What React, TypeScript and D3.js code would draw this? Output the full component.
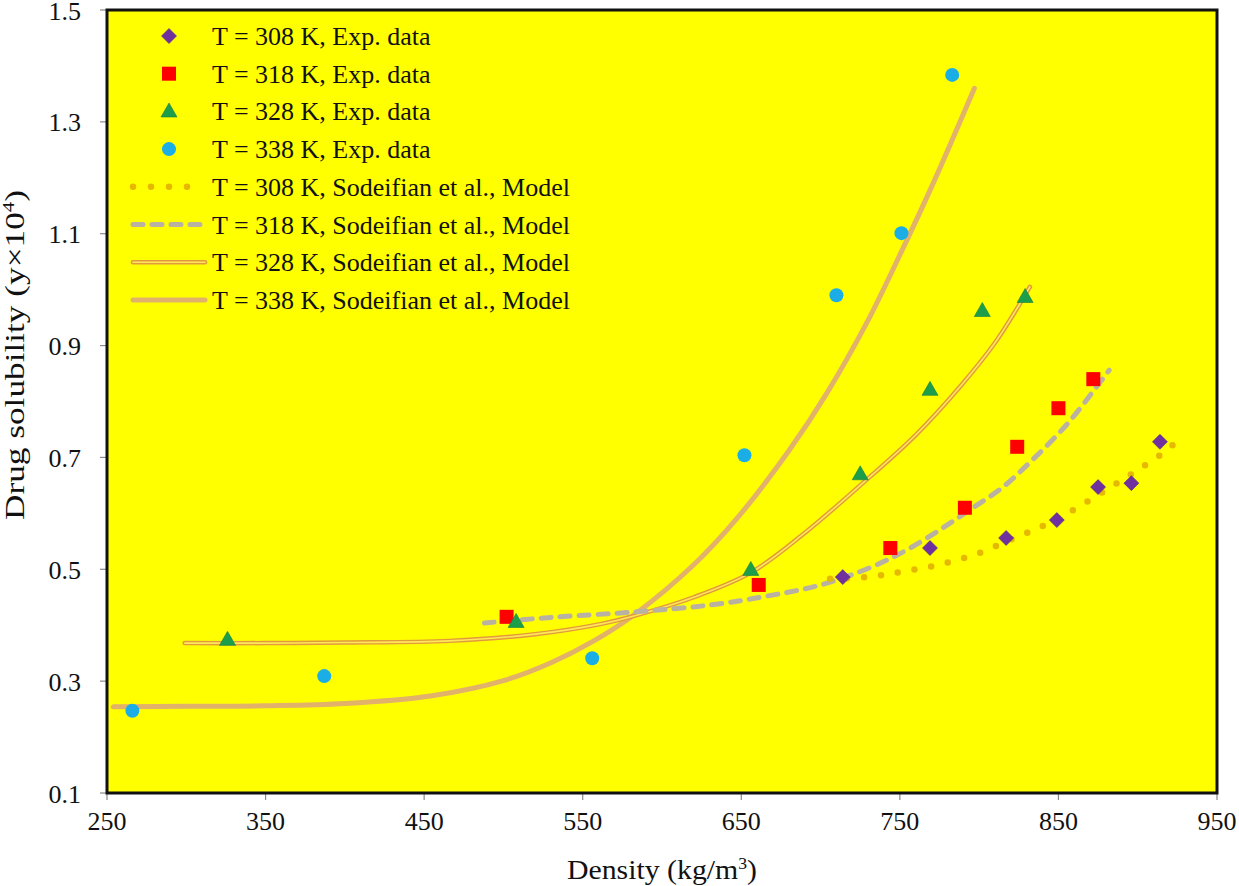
import React from "react";
import * as d3 from "d3";

// ---------- data ----------
const xTicks = [250, 350, 450, 550, 650, 750, 850, 950];
const yTicks = [0.1, 0.3, 0.5, 0.7, 0.9, 1.1, 1.3, 1.5];

// Experimental data
const exp308X = [714, 769, 817, 849, 875, 896, 914];
const exp308Y = [0.486, 0.538, 0.556, 0.588, 0.647, 0.654, 0.728];
const exp318X = [502, 661, 744, 791, 824, 850, 872];
const exp318Y = [0.415, 0.472, 0.538, 0.61, 0.719, 0.788, 0.84];
const exp328X = [326, 508, 656, 725, 769, 802, 829];
const exp328Y = [0.374, 0.406, 0.499, 0.67, 0.821, 0.962, 0.987];
const exp338X = [266, 387, 556, 652, 710, 751, 783];
const exp338Y = [0.247, 0.309, 0.341, 0.704, 0.99, 1.101, 1.384];

// Model curves (Sodeifian et al.)
const mod308X = [706, 732, 754, 776, 798, 819, 839, 858, 878, 897, 915, 926];
const mod308Y = [0.483, 0.487, 0.497, 0.509, 0.527, 0.552, 0.576, 0.604, 0.638, 0.672, 0.706, 0.732];
const mod318X = [488, 530, 584, 630, 666, 700, 732, 754, 776, 795, 815, 833, 855, 874, 882];
const mod318Y = [0.404, 0.414, 0.424, 0.436, 0.452, 0.472, 0.504, 0.534, 0.572, 0.608, 0.647, 0.694, 0.758, 0.826, 0.856];
const mod328X = [299, 350, 400, 466, 520, 561, 584, 620, 656, 690, 725, 760, 789, 810, 832];
const mod328Y = [0.368, 0.368, 0.369, 0.372, 0.384, 0.402, 0.418, 0.45, 0.494, 0.565, 0.65, 0.74, 0.83, 0.905, 1.005];
const mod338X = [254, 300, 350, 400, 455, 500, 530, 557, 584, 620, 647, 680, 704, 729, 751, 771, 797];
const mod338Y = [0.254, 0.255, 0.256, 0.26, 0.274, 0.301, 0.333, 0.372, 0.422, 0.508, 0.59, 0.712, 0.815, 0.94, 1.068, 1.19, 1.36];

const legendLabels = [
  "T = 308 K, Exp. data",
  "T = 318 K, Exp. data",
  "T = 328 K, Exp. data",
  "T = 338 K, Exp. data",
  "T = 308 K, Sodeifian et al., Model",
  "T = 318 K, Sodeifian et al., Model",
  "T = 328 K, Sodeifian et al., Model",
  "T = 338 K, Sodeifian et al., Model",
];

// ---------- layout ----------
const W = 1239;
const H = 886;
const L = 107, R = 1217, T = 10, B = 793;
const FONT = "'Liberation Serif', 'Times New Roman', serif";

const C_DIAMOND = "#7030A0";
const C_SQUARE = "#FF0000";
const C_TRI = "#1C9E4A";
const C_CIRCLE = "#1BAEE6";
const C_DOT = "#E6B800";
const C_DASH = "#B9B1A2";
const C_328 = "#E29A3C";
const C_328_IN = "#FFE75A";
const C_338 = "#E2B26A";

function zip(xs: number[], ys: number[]) {
  return xs.map((x, i) => [x, ys[i]] as [number, number]);
}

function Marker({ type, x, y }: { type: string; x: number; y: number }) {
  if (type === "diamond") {
    const s = 7.5;
    return <path d={`M${x},${y - s}L${x + s},${y}L${x},${y + s}L${x - s},${y}Z`} fill={C_DIAMOND} stroke="#5a2a80" strokeWidth={0.6} />;
  }
  if (type === "square") {
    const s = 7;
    return <rect x={x - s} y={y - s} width={2 * s} height={2 * s} fill={C_SQUARE} />;
  }
  if (type === "triangle") {
    const w = 8, h = 14;
    return <path d={`M${x},${y - h * 0.6}L${x + w},${y + h * 0.4}L${x - w},${y + h * 0.4}Z`} fill={C_TRI} stroke="#17803c" strokeWidth={0.6} />;
  }
  return <circle cx={x} cy={y} r={7} fill={C_CIRCLE} />;
}

export default function App() {
  const xS = d3.scaleLinear().domain([250, 950]).range([L, R]);
  const yS = d3.scaleLinear().domain([0.1, 1.5]).range([B, T]);
  const line = d3
    .line<[number, number]>()
    .x((d) => xS(d[0]))
    .y((d) => yS(d[1]))
    .curve(d3.curveCatmullRom.alpha(0.5));

  const p308 = line(zip(mod308X, mod308Y)) || "";
  const p318 = line(zip(mod318X, mod318Y)) || "";
  const p328 = line(zip(mod328X, mod328Y)) || "";
  const p338 = line(zip(mod338X, mod338Y)) || "";

  const expSets = [
    { type: "diamond", xs: exp308X, ys: exp308Y },
    { type: "square", xs: exp318X, ys: exp318Y },
    { type: "triangle", xs: exp328X, ys: exp328Y },
    { type: "circle", xs: exp338X, ys: exp338Y },
  ];

  const legY0 = 36;
  const legDy = 37.7;
  const legMarkerX = 169;
  const legTextX = 212;
  const legLineX1 = 133;
  const legLineX2 = 205;

  return (
    <svg width={W} height={H} style={{ position: "absolute", left: 0, top: 0, background: "#fff" }} fontFamily={FONT}>
      <rect x={0} y={0} width={W} height={H} fill="#fff" />
      <rect x={L} y={T} width={R - L} height={B - T} fill="#FFFF00" />

      {/* model curves */}
      <path d={p338} fill="none" stroke={C_338} strokeWidth={5} strokeLinecap="round" />
      <path d={p328} fill="none" stroke={C_328} strokeWidth={4.5} strokeLinecap="round" />
      <path d={p328} fill="none" stroke={C_328_IN} strokeWidth={1.6} strokeLinecap="round" />
      <path d={p318} fill="none" stroke={C_DASH} strokeWidth={5} strokeDasharray="10 9" strokeLinecap="round" />
      <path d={p308} fill="none" stroke={C_DOT} strokeWidth={6.5} strokeDasharray="0 17" strokeLinecap="round" />

      {/* experimental markers */}
      {expSets.map((s) =>
        s.xs.map((xv, i) => <Marker key={s.type + i} type={s.type} x={xS(xv)} y={yS(s.ys[i])} />)
      )}

      {/* legend */}
      {legendLabels.map((lab, i) => {
        const y = legY0 + i * legDy;
        let sample: React.ReactNode = null;
        if (i < 4) {
          sample = <Marker type={expSets[i].type} x={legMarkerX} y={y} />;
        } else if (i === 4) {
          sample = <line x1={legLineX1} x2={190} y1={y} y2={y} stroke={C_DOT} strokeWidth={6.5} strokeDasharray="0 18" strokeLinecap="round" />;
        } else if (i === 5) {
          sample = <line x1={legLineX1} x2={legLineX2} y1={y} y2={y} stroke={C_DASH} strokeWidth={5} strokeDasharray="10 9" strokeLinecap="round" />;
        } else if (i === 6) {
          sample = (
            <g>
              <line x1={legLineX1} x2={legLineX2} y1={y} y2={y} stroke={C_328} strokeWidth={4.5} strokeLinecap="round" />
              <line x1={legLineX1} x2={legLineX2} y1={y} y2={y} stroke={C_328_IN} strokeWidth={1.6} strokeLinecap="round" />
            </g>
          );
        } else {
          sample = <line x1={legLineX1} x2={legLineX2} y1={y} y2={y} stroke={C_338} strokeWidth={5} strokeLinecap="round" />;
        }
        return (
          <g key={lab}>
            {sample}
            <text x={legTextX} y={y + 9} fontSize={26} fill="#111">{lab}</text>
          </g>
        );
      })}

      {/* ticks */}
      {xTicks.map((t) => (
        <g key={"x" + t}>
          <line x1={xS(t)} x2={xS(t)} y1={B} y2={B + 7} stroke="#8a8a8a" strokeWidth={1.2} />
          <text x={xS(t)} y={830} textAnchor="middle" fontSize={26} fill="#111">{t}</text>
        </g>
      ))}
      {yTicks.map((t) => (
        <g key={"y" + t}>
          <line x1={L - 7} x2={L} y1={yS(t)} y2={yS(t)} stroke="#8a8a8a" strokeWidth={1.2} />
          <text x={81} y={yS(t) + 9.5} textAnchor="end" fontSize={26} fill="#111">{t.toFixed(1)}</text>
        </g>
      ))}

      {/* frame */}
      <rect x={L} y={T} width={R - L} height={B - T} fill="none" stroke="#111" strokeWidth={3} />

      {/* axis titles */}
      <text x={(L + R) / 2} y={879} textAnchor="middle" fontSize={27} fill="#111" textLength={190} lengthAdjust="spacingAndGlyphs">
        Density (kg/m<tspan dy={-10} fontSize={16}>3</tspan><tspan dy={10}>)</tspan>
      </text>
      <text transform="translate(24,355) rotate(-90)" textAnchor="middle" fontSize={27} fill="#111" textLength={330} lengthAdjust="spacingAndGlyphs">
        Drug solubility (y×10<tspan dy={-10} fontSize={16}>4</tspan><tspan dy={10}>)</tspan>
      </text>
    </svg>
  );
}
